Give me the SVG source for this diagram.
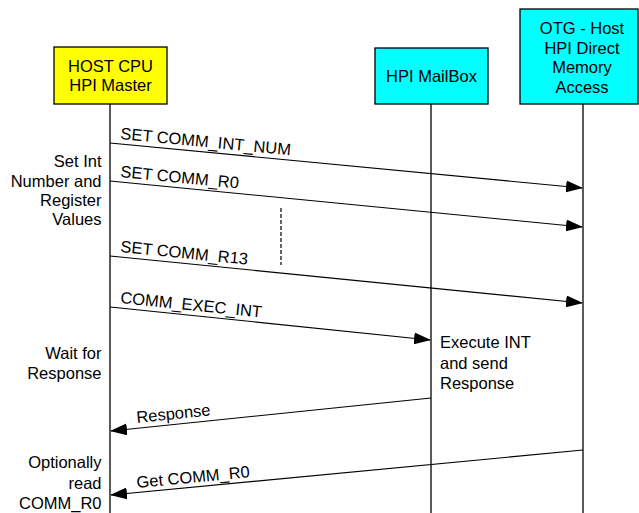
<svg xmlns="http://www.w3.org/2000/svg" width="639" height="513" viewBox="0 0 639 513">
<style>
text{font-family:"Liberation Sans",Arial,sans-serif;font-size:16.5px;fill:#000}
.c{text-anchor:middle}
.r{text-anchor:end}
.box{stroke:#000;stroke-width:1.3}
.life{stroke:#000;stroke-width:1.3;fill:none}
.msg{stroke:#000;stroke-width:1.1;fill:none;marker-end:url(#ah)}
</style>
<defs>
<marker id="ah" markerUnits="userSpaceOnUse" markerWidth="18" markerHeight="12" refX="16" refY="6" orient="auto">
<path d="M0,0 L17,6 L0,12 Z" fill="#000"/>
</marker>
</defs>
<rect width="639" height="513" fill="#fff"/>
<g id="lifelines">
<line class="life" x1="110" y1="104" x2="110" y2="513"/>
<line class="life" x1="431" y1="104" x2="431" y2="513"/>
<line class="life" x1="583" y1="104" x2="583" y2="513"/>
</g>
<g id="host">
<rect class="box" x="54" y="47" width="113" height="57" fill="#ffff00"/>
<text class="c" x="110.5" y="72">HOST CPU</text>
<text class="c" x="110.5" y="91">HPI Master</text>
</g>
<g id="mailbox">
<rect class="box" x="375" y="48" width="113" height="56" fill="#00ffff"/>
<text class="c" x="431.5" y="82">HPI MailBox</text>
</g>
<g id="otg">
<rect class="box" x="520" y="9" width="118" height="95" fill="#00ffff"/>
<text class="c" x="582" y="34">OTG - Host</text>
<text class="c" x="582" y="53.5">HPI Direct</text>
<text class="c" x="582" y="73">Memory</text>
<text class="c" x="582" y="92.5">Access</text>
</g>
<g id="connectors">
<line class="msg" x1="110" y1="143" x2="582" y2="188"/>
<line class="msg" x1="110" y1="181" x2="582" y2="227"/>
<line class="msg" x1="110" y1="256" x2="582" y2="303"/>
<line class="msg" x1="110" y1="307" x2="430" y2="340"/>
<line class="msg" x1="431" y1="398" x2="111" y2="431"/>
<line class="msg" x1="583" y1="450" x2="111" y2="495"/>
<line x1="281" y1="208" x2="281" y2="265" stroke="#000" stroke-width="1.2" stroke-dasharray="4,2"/>
</g>
<g id="msg-labels">
<text x="120" y="139" transform="rotate(5.43 120 139)">SET COMM_INT_NUM</text>
<text x="120" y="177" transform="rotate(5.55 120 177)">SET COMM_R0</text>
<text x="120" y="252" transform="rotate(5.67 120 252)">SET COMM_R13</text>
<text x="120" y="303" transform="rotate(5.87 120 303)">COMM_EXEC_INT</text>
<text x="137" y="423" transform="rotate(-5.87 137 423)">Response</text>
<text x="137" y="488" transform="rotate(-5.43 137 488)">Get COMM_R0</text>
</g>
<g id="notes">
<text class="r" x="101.5" y="167">Set Int</text>
<text class="r" x="101.5" y="186.5">Number and</text>
<text class="r" x="101.5" y="206">Register</text>
<text class="r" x="101.5" y="225">Values</text>
<text class="r" x="101.5" y="359">Wait for</text>
<text class="r" x="101.5" y="379">Response</text>
<text class="r" x="101.5" y="468">Optionally</text>
<text class="r" x="101.5" y="488.5">read</text>
<text class="r" x="101.5" y="508.5">COMM_R0</text>
<text x="440" y="348">Execute INT</text>
<text x="440" y="369">and send</text>
<text x="440" y="389">Response</text>
</g>
</svg>
